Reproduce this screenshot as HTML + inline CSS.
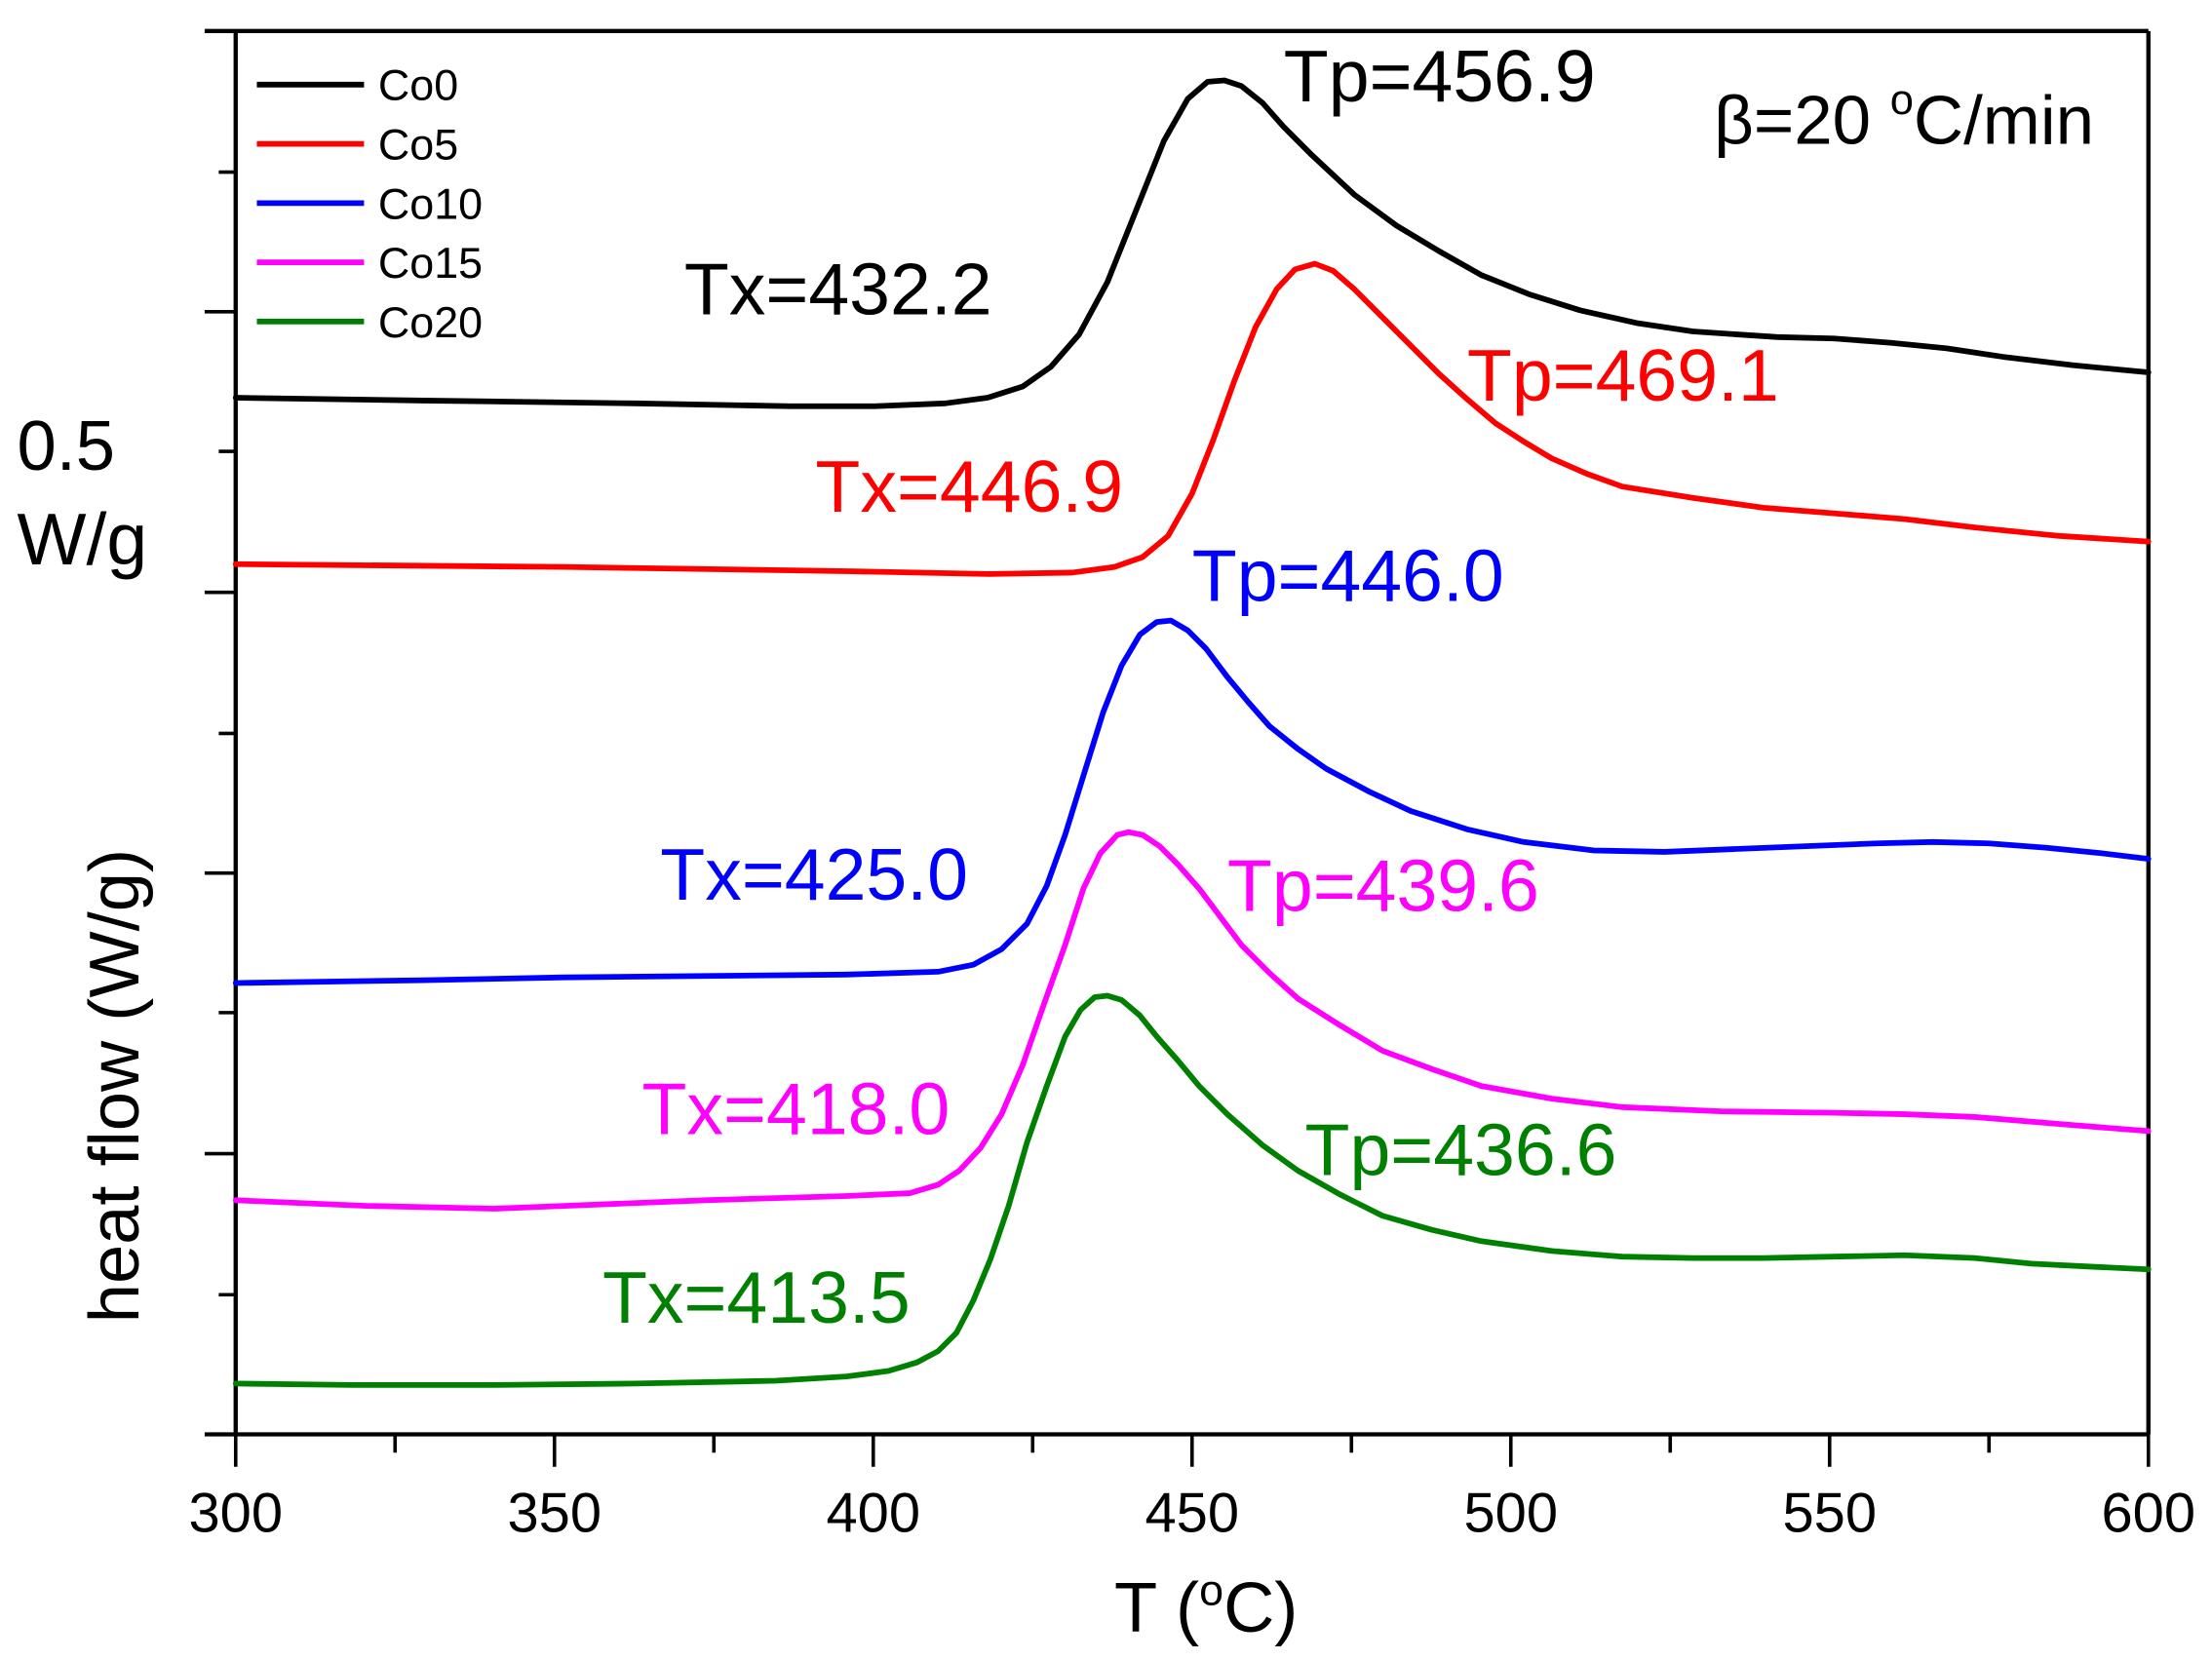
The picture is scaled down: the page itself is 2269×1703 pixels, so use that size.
<!DOCTYPE html>
<html><head><meta charset="utf-8"><style>
html,body{margin:0;padding:0;background:#fff;}
svg{display:block;}
text{font-family:"Liberation Sans",Arial,sans-serif;}
</style></head><body>
<svg width="2269" height="1703" viewBox="0 0 1568 1177" xmlns="http://www.w3.org/2000/svg">
<rect width="1568" height="1177" fill="#fff"/>
<g stroke="#000" stroke-width="3" fill="none">
<line x1="145" y1="22" x2="1523" y2="22"/>
<line x1="167" y1="22" x2="167" y2="1017"/>
<line x1="1523" y1="22" x2="1523" y2="1017"/>
<line x1="145" y1="1017" x2="1523" y2="1017"/>
<g stroke-width="2.5">
<line x1="145" y1="221" x2="167" y2="221"/><line x1="145" y1="420" x2="167" y2="420"/>
<line x1="145" y1="619" x2="167" y2="619"/><line x1="145" y1="818" x2="167" y2="818"/>
<line x1="155" y1="122" x2="167" y2="122"/><line x1="155" y1="320" x2="167" y2="320"/>
<line x1="155" y1="520" x2="167" y2="520"/><line x1="155" y1="718" x2="167" y2="718"/>
<line x1="155" y1="918" x2="167" y2="918"/>
<line x1="167" y1="1017" x2="167" y2="1040"/><line x1="393" y1="1017" x2="393" y2="1040"/>
<line x1="619" y1="1017" x2="619" y2="1040"/><line x1="845" y1="1017" x2="845" y2="1040"/>
<line x1="1071" y1="1017" x2="1071" y2="1040"/><line x1="1297" y1="1017" x2="1297" y2="1040"/>
<line x1="1523" y1="1017" x2="1523" y2="1040"/>
<line x1="280" y1="1017" x2="280" y2="1030"/><line x1="506" y1="1017" x2="506" y2="1030"/>
<line x1="732" y1="1017" x2="732" y2="1030"/><line x1="958" y1="1017" x2="958" y2="1030"/>
<line x1="1184" y1="1017" x2="1184" y2="1030"/><line x1="1410" y1="1017" x2="1410" y2="1030"/>
</g>
</g>
<g font-size="40" text-anchor="middle" fill="#000">
<text x="167" y="1086">300</text><text x="393" y="1086">350</text><text x="619" y="1086">400</text>
<text x="845" y="1086">450</text><text x="1071" y="1086">500</text><text x="1297" y="1086">550</text>
<text x="1523" y="1086">600</text>
</g>
<text x="855" y="1157" font-size="50" text-anchor="middle">T (<tspan font-size="31" dy="-19">o</tspan><tspan dy="19">C)</tspan></text>
<text transform="translate(98,770) rotate(-90)" font-size="50" text-anchor="middle">heat flow (W/g)</text>
<text x="12" y="333" font-size="50">0.5</text>
<text x="12" y="400" font-size="52">W/g</text>
<g stroke-width="4" fill="none" stroke-linejoin="round" stroke-linecap="round">
<polyline stroke="#000" points="167,282 300,284 450,286 560,288 620,288 670,286 700,282 725,274 745,260 765,237 785,200 805,150 825,100 842,70 856,58 868,57 880,61 895,73 910,90 930,110 960,138 990,160 1020,178 1050,195 1085,209 1120,220 1160,229 1200,235 1260,239 1300,240 1340,243 1380,247 1420,253 1470,259 1523,264"/>
<polyline stroke="#ff0000" points="167,400 400,402 600,405 700,407 760,406 790,402 810,395 828,380 845,350 860,312 875,270 890,232 905,205 918,191 932,187 945,192 960,205 980,225 1000,245 1020,265 1040,283 1060,300 1080,313 1100,325 1125,336 1150,345 1200,353 1250,360 1300,364 1350,368 1400,374 1460,380 1523,384"/>
<polyline stroke="#0000ff" points="167,697 300,695 400,693 500,692 600,691 665,689 690,684 710,673 728,655 742,628 755,592 768,550 782,505 795,472 808,450 820,441 830,440 842,447 855,460 870,480 885,498 900,515 920,531 940,545 970,561 1000,575 1040,588 1080,597 1130,603 1180,604 1230,602 1280,600 1330,598 1370,597 1410,598 1450,601 1490,605 1523,609"/>
<polyline stroke="#ff00ff" points="167,851 260,855 350,857 400,855 500,851 600,848 645,846 665,840 680,830 695,814 710,790 725,755 740,712 755,670 768,630 780,605 792,592 800,590 810,592 822,600 835,613 850,630 865,650 880,670 900,690 920,708 950,727 980,745 1015,758 1050,770 1100,779 1150,785 1220,788 1300,789 1350,790 1400,792 1460,797 1523,802"/>
<polyline stroke="#008000" points="167,981 250,982 350,982 450,981 550,979 600,976 630,972 650,966 665,958 678,945 690,922 702,893 715,855 728,810 742,770 755,735 766,716 776,707 785,706 795,709 808,720 820,735 835,752 850,770 870,790 895,812 920,830 950,847 980,862 1015,872 1050,880 1100,887 1150,891 1200,892 1250,892 1300,891 1350,890 1400,892 1440,896 1480,898 1523,900"/>
</g>
<g stroke-width="4">
<line x1="182" y1="60" x2="258" y2="60" stroke="#000"/>
<line x1="182" y1="102" x2="258" y2="102" stroke="#ff0000"/>
<line x1="182" y1="144" x2="258" y2="144" stroke="#0000ff"/>
<line x1="182" y1="186" x2="258" y2="186" stroke="#ff00ff"/>
<line x1="182" y1="228" x2="258" y2="228" stroke="#008000"/>
</g>
<g font-size="31" fill="#000">
<text x="268" y="71">Co0</text><text x="268" y="113">Co5</text><text x="268" y="155">Co10</text>
<text x="268" y="197">Co15</text><text x="268" y="239">Co20</text>
</g>
<g font-size="52">
<text x="910" y="72" fill="#000">Tp=456.9</text>
<text x="1215" y="102" fill="#000" font-size="49">β=20 <tspan font-size="30" dy="-21">o</tspan><tspan dy="21">C/min</tspan></text>
<text x="485" y="223" fill="#000">Tx=432.2</text>
<text x="1040" y="284" fill="#ff0000">Tp=469.1</text>
<text x="578" y="363" fill="#ff0000">Tx=446.9</text>
<text x="845" y="426" fill="#0000ff">Tp=446.0</text>
<text x="468" y="638" fill="#0000ff">Tx=425.0</text>
<text x="870" y="646" fill="#ff00ff">Tp=439.6</text>
<text x="455" y="804" fill="#ff00ff">Tx=418.0</text>
<text x="925" y="833" fill="#008000">Tp=436.6</text>
<text x="427" y="938" fill="#008000">Tx=413.5</text>
</g>
</svg>
</body></html>
